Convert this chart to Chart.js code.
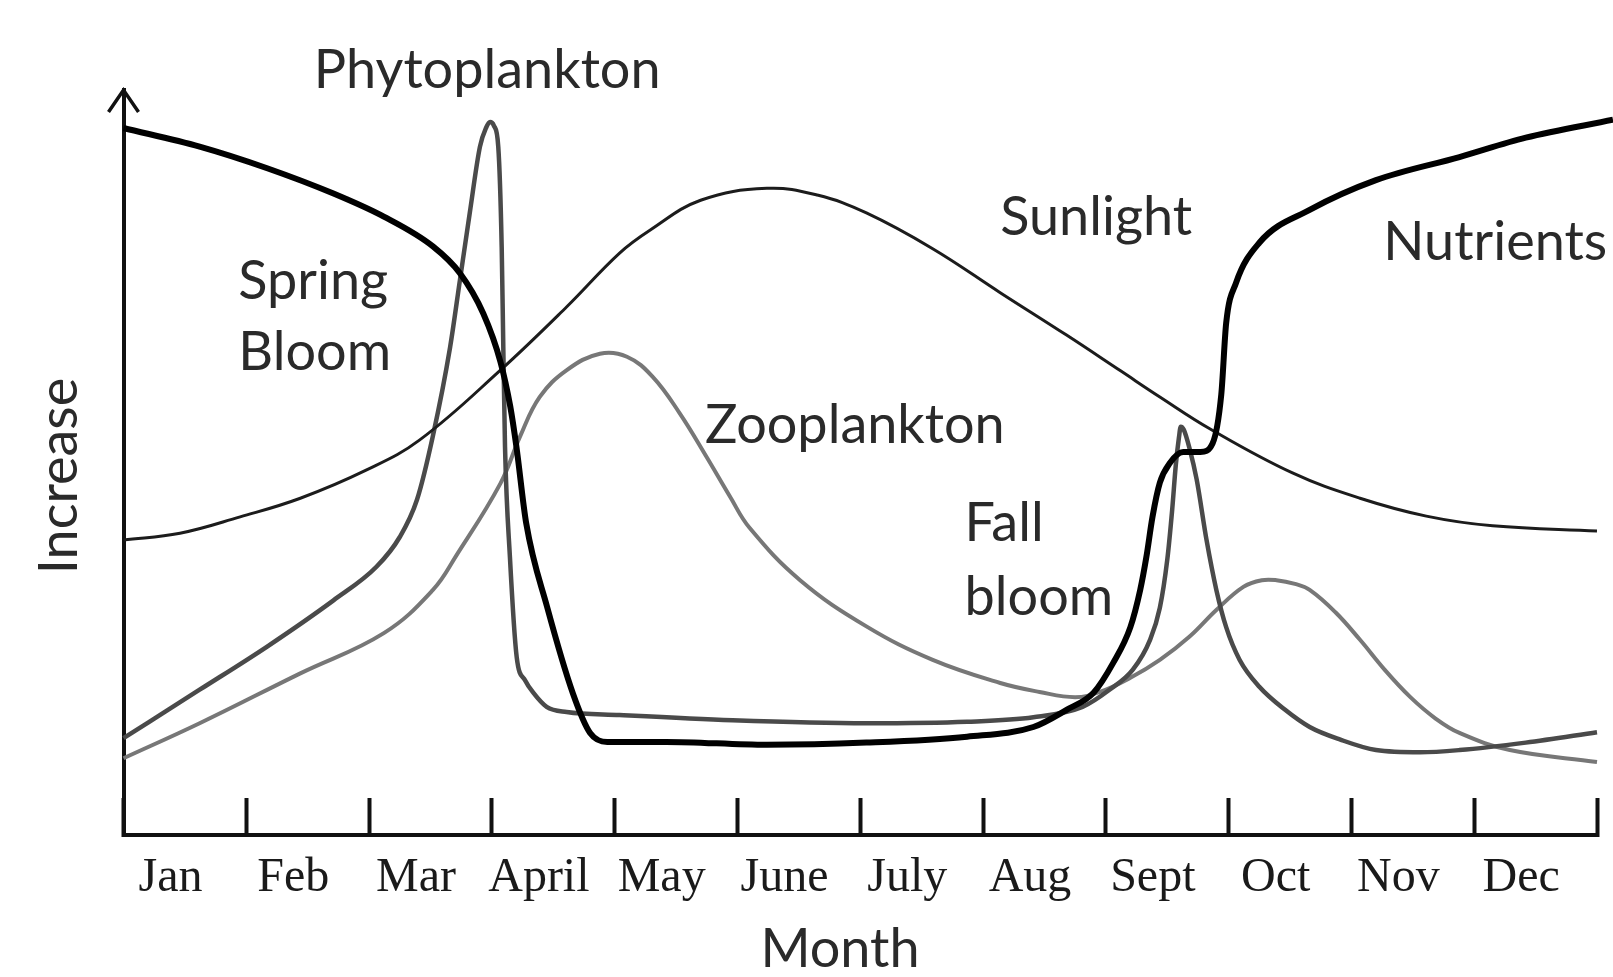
<!DOCTYPE html>
<html>
<head>
<meta charset="utf-8">
<title>Seasonal plankton cycle</title>
<script src="https://cdn.jsdelivr.net/npm/chart.js@4.4.1/dist/chart.umd.min.js"></script>
<style>
    html, body { margin: 0; padding: 0; background: #fff; }
    #wrap { width: 1613px; height: 977px; }
</style>
</head>
<body>
<div id="wrap"><canvas id="cycle"></canvas></div>
<script>
"use strict";

// Month names under the ticks
var months = ["Jan", "Feb", "Mar", "April", "May", "June", "July", "Aug", "Sept", "Oct", "Nov", "Dec"];

// x = months since 1 Jan, y = relative level (0 - 100)
var nutrientsX = [0, 0.62, 1.17, 1.71, 2.12, 2.52, 2.74, 2.93, 3.07, 3.15, 3.2, 3.28, 3.45, 3.66, 3.8, 3.94, 4.42, 5.24, 6.05, 6.87, 7.41, 7.68, 7.9, 8.06, 8.2, 8.28, 8.33, 8.38, 8.44, 8.52, 8.63, 8.77, 8.87, 8.94, 8.98, 9.06, 9.25, 9.66, 10.2, 10.88, 11.42, 12.13];
var nutrientsY = [94.9, 92.4, 89.5, 86.1, 83.0, 79.0, 75.4, 70.0, 63.5, 57.5, 52.1, 41.8, 30.6, 19.0, 13.7, 12.5, 12.5, 12.1, 12.4, 13.2, 14.5, 16.8, 19.1, 23.1, 27.9, 32.9, 37.3, 42.7, 47.3, 49.9, 51.4, 51.4, 52.6, 59.1, 68.7, 74.1, 79.5, 83.9, 87.9, 91.0, 93.6, 96.0];

var sunlightX = [0, 0.46, 0.95, 1.44, 1.98, 2.41, 3.07, 3.61, 4.04, 4.29, 4.7, 5.24, 5.65, 6.05, 6.59, 7.14, 7.68, 8.12, 8.44, 8.85, 9.52, 10.07, 10.61, 11.15, 12];
var sunlightY = [39.6, 40.5, 42.7, 45.2, 49.0, 53.0, 62.4, 70.9, 78.1, 81.2, 85.2, 86.8, 85.9, 83.5, 78.7, 72.8, 67.1, 62.3, 58.8, 54.5, 48.6, 45.2, 42.8, 41.5, 40.8];

var phytoX = [0, 0.62, 1.17, 1.71, 2.06, 2.25, 2.39, 2.52, 2.66, 2.74, 2.82, 2.903, 2.952, 2.985, 3.017, 3.052, 3.08, 3.093, 3.107, 3.147, 3.202, 3.269, 3.337, 3.446, 3.609, 4.04, 4.96, 6.05, 6.87, 7.41, 7.81, 8.03, 8.22, 8.36, 8.44, 8.5, 8.54, 8.57, 8.595, 8.61, 8.635, 8.68, 8.74, 8.82, 8.9, 8.98, 9.09, 9.25, 9.46, 9.66, 9.91, 10.2, 10.56, 10.88, 11.42, 12];
var phytoY = [13.0, 19.5, 25.3, 31.5, 36.0, 40.0, 45.0, 53.6, 65.5, 74.5, 83.5, 92.4, 94.9, 95.7, 95.2, 92.4, 78.9, 65.5, 52.1, 37.3, 23.9, 20.8, 19.1, 17.2, 16.5, 16.1, 15.4, 15.0, 15.2, 15.8, 17.2, 19.5, 22.2, 26.2, 30.5, 36.9, 43.6, 49.7, 53.3, 54.8, 54.4, 52.0, 47.7, 39.6, 32.9, 27.9, 23.5, 19.9, 16.8, 14.5, 12.8, 11.4, 11.1, 11.4, 12.4, 13.8];

var zooX = [0, 0.62, 1.44, 2.12, 2.52, 2.71, 3.07, 3.23, 3.39, 3.61, 3.88, 4.1, 4.31, 4.53, 4.75, 4.94, 5.1, 5.51, 6.05, 6.59, 7.14, 7.46, 7.75, 7.95, 8.2, 8.44, 8.68, 8.9, 9.12, 9.27, 9.39, 9.54, 9.66, 9.87, 10.07, 10.27, 10.48, 10.68, 10.88, 11.29, 12];
var zooY = [10.3, 15.0, 21.7, 27.1, 32.9, 37.5, 47.2, 53.5, 58.8, 62.4, 64.6, 64.2, 61.5, 56.6, 50.7, 45.4, 41.2, 34.2, 28.0, 23.5, 20.4, 19.2, 18.5, 19.2, 21.1, 23.5, 26.6, 30.2, 33.3, 34.2, 34.2, 33.7, 32.9, 29.9, 26.2, 22.2, 18.5, 15.7, 13.7, 11.4, 9.8];

// Curve names, anchored in data space (left edge / baseline)
var notes = [
    { text: "Phytoplankton", x: 1.55, y: 100.3 },
    { text: "Sunlight", x: 7.14, y: 80.5 },
    { text: "Nutrients", x: 10.26, y: 77.2 },
    { text: "Spring", x: 0.935, y: 72.0 },
    { text: "Bloom", x: 0.935, y: 62.4 },
    { text: "Zooplankton", x: 4.735, y: 52.6 },
    { text: "Fall", x: 6.85, y: 39.4 },
    { text: "bloom", x: 6.85, y: 29.5 }
];

var LABEL_FONT = "Lato";

function pairUp(xs, ys) {
    return xs.map(function (x, i) {
        return { x: x, y: ys[i] };
    });
}

// sharp blooms keep monotone splines, the smooth ones use plain tension
function curve(label, xs, ys, color, width, smooth) {
    var ds = {
        label: label,
        data: pairUp(xs, ys),
        borderColor: color,
        borderWidth: width,
        pointRadius: 0,
        fill: false,
        clip: false
    };
    if (smooth) {
        ds.tension = 0.4;
    } else {
        ds.cubicInterpolationMode = "monotone";
    }
    return ds;
}

// Arrow tip on the y axis and the curve names
var decorations = {
    id: "decorations",
    afterDraw: function (chart) {
        var ctx = chart.ctx;
        var area = chart.chartArea;
        var xs = chart.scales.x;
        var ys = chart.scales.y;

        ctx.save();
        ctx.strokeStyle = "#111";
        ctx.lineWidth = 3.5;
        ctx.lineJoin = "miter";
        ctx.beginPath();
        ctx.moveTo(area.left - 15, area.top + 22);
        ctx.lineTo(area.left, area.top);
        ctx.lineTo(area.left + 15, area.top + 22);
        ctx.stroke();

        ctx.font = "54px " + LABEL_FONT;
        ctx.fillStyle = "#2a2a2a";
        ctx.textAlign = "left";
        ctx.textBaseline = "alphabetic";
        notes.forEach(function (n) {
            ctx.fillText(n.text, xs.getPixelForValue(n.x), ys.getPixelForValue(n.y));
        });
        ctx.restore();
    }
};

new Chart(document.getElementById("cycle"), {
    type: "line",
    data: {
        datasets: [
            curve("Nutrients", nutrientsX, nutrientsY, "#000000", 6, false),
            curve("Sunlight", sunlightX, sunlightY, "#1c1c1c", 3, true),
            curve("Phytoplankton", phytoX, phytoY, "#4a4a4a", 4.5, false),
            curve("Zooplankton", zooX, zooY, "#777777", 4, true)
        ]
    },
    options: {
        responsive: true,
        maintainAspectRatio: false,
        animation: false,
        events: [],
        layout: {
            padding: { top: 90, right: 16, bottom: 0, left: 0 }
        },
        plugins: {
            legend: { display: false },
            tooltip: { enabled: false }
        },
        scales: {
            x: {
                type: "linear",
                min: 0,
                max: 12,
                afterFit: function (scale) {
                    // labels sit below the axis, no side padding needed
                    scale.height = 142;
                    scale.paddingLeft = 0;
                    scale.paddingRight = 0;
                },
                border: { display: true, color: "#111", width: 4 },
                grid: {
                    display: true,
                    drawOnChartArea: false,
                    drawTicks: true,
                    tickLength: -37,
                    tickWidth: 4,
                    tickColor: "#111"
                },
                ticks: {
                    stepSize: 1,
                    autoSkip: false,
                    maxRotation: 0,
                    padding: 52,
                    labelOffset: 47,
                    color: "#1a1a1a",
                    font: { family: "Liberation Serif", size: 48 },
                    callback: function (value) {
                        return months[value] || "";
                    }
                },
                title: {
                    display: true,
                    // trailing em space nudges the word a little left of centre
                    text: "Month\u2003",
                    color: "#2a2a2a",
                    font: { family: LABEL_FONT, size: 54, lineHeight: 1 },
                    padding: { top: 0, bottom: 0 }
                }
            },
            y: {
                min: 0,
                max: 100,
                afterFit: function (scale) { scale.width = 123.5; },
                border: { display: true, color: "#111", width: 4 },
                grid: { display: false },
                ticks: { display: false },
                title: {
                    display: true,
                    text: "Increase\u2002",
                    color: "#2a2a2a",
                    font: { family: LABEL_FONT, size: 54, lineHeight: 1 },
                    padding: { top: 33, bottom: 0 }
                }
            }
        }
    },
    plugins: [decorations]
});
</script>
</body>
</html>
